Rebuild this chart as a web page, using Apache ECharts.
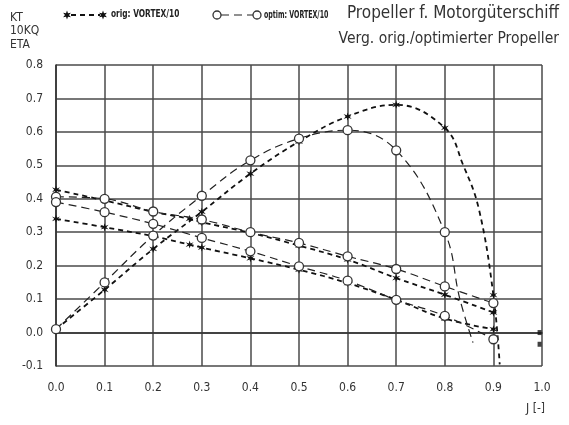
<!DOCTYPE html>
<html>
<head>
<meta charset="utf-8">
<script src="https://cdn.jsdelivr.net/npm/echarts@6/dist/echarts.min.js"></script>
<style>
html,body{margin:0;padding:0;background:#fff;}
#c{width:569px;height:425px;}
</style>
</head>
<body>
<div id="c"></div>
<script>
// ---- data ----
const J = [0.0, 0.1, 0.2, 0.3, 0.4, 0.5, 0.6, 0.7, 0.8, 0.9];
const xTicks = ['0.0','0.1','0.2','0.3','0.4','0.5','0.6','0.7','0.8','0.9','1.0'];
const ktOrig   = [0.340, 0.315, 0.288, 0.254, 0.222, 0.188, 0.148, 0.098, 0.042, 0.010];
const ktOptim  = [0.390, 0.360, 0.325, 0.283, 0.243, 0.198, 0.155, 0.098, 0.050, -0.020];
const kqOrig   = [0.427, 0.395, 0.361, 0.330, 0.298, 0.260, 0.218, 0.163, 0.113, 0.060];
const kqOptim  = [0.406, 0.400, 0.362, 0.338, 0.300, 0.268, 0.228, 0.190, 0.138, 0.088];
const etaOrigJ = [0.0, 0.1, 0.2, 0.3, 0.4, 0.5, 0.6, 0.7, 0.8, 0.9];
const etaOrig  = [0.010, 0.128, 0.250, 0.361, 0.475, 0.571, 0.646, 0.681, 0.612, 0.112];
const etaOptimJ = [0.0, 0.1, 0.2, 0.3, 0.4, 0.5, 0.6, 0.7, 0.8];
const etaOptim  = [0.010, 0.150, 0.290, 0.409, 0.515, 0.580, 0.605, 0.545, 0.300];
// unmarked curve points
const etaOrigCurve  = [[0.838, 0.500], [0.870, 0.370], [0.913, -0.095]];
const etaOptimCurve = [[0.831, 0.100], [0.858, -0.030]];
const kqOrigExtra = [[0.275, 0.340]];
const ktOrigExtra = [[0.275, 0.263]];
const edgeMarks = [[0.995, 0.000], [0.995, -0.035]];

const FONT = "'DejaVu Sans Condensed','Liberation Sans Narrow',sans-serif";
const STAR = 'path://M5,0L6,3.5L9.5,2L7,5L9.5,8L6,6.5L5,10L4,6.5L0.5,8L3,5L0.5,2L4,3.5Z';

function pairs(xs, ys){ return xs.map((x,i)=>[x, ys[i]]); }
function merge(marked, extra, extraSymbol){
  const a = marked.map(p=>({value:p}));
  extra.forEach(p=>a.push(extraSymbol ? {value:p} : {value:p, symbol:'none'}));
  a.sort((u,v)=>u.value[0]-v.value[0]);
  return a;
}
function starPts(cx, cy, r){
  const pts = [];
  for (let k = 0; k < 12; k++){
    const ang = Math.PI * k / 6 - Math.PI/2;
    const rr = (k % 2 === 0) ? r : r*0.45;
    pts.push([cx + rr*Math.cos(ang), cy + rr*Math.sin(ang)]);
  }
  return pts;
}

const origLine = {color:'#111', width:1.8, type:[5,4]};
const optLine  = {color:'#222', width:1.2, type:[8,5]};
const starItem = {color:'#111'};
const circItem = {color:'#fff', borderColor:'#333', borderWidth:1.3};

function origSeries(data){
  return {type:'line', data, smooth:0.4, symbol:STAR, symbolSize:8,
    lineStyle:origLine, itemStyle:starItem, z:3, animation:false};
}
function optSeries(data){
  return {type:'line', data, smooth:0.4, symbol:'circle', symbolSize:9,
    lineStyle:optLine, itemStyle:circItem, z:4, animation:false};
}

const chart = echarts.init(document.getElementById('c'));
chart.setOption({
  backgroundColor:'#fff',
  animation:false,
  grid:{left:56, right:27, top:65, bottom:59},
  xAxis:{type:'value', min:0, max:1, interval:0.1,
    axisLine:{show:true, lineStyle:{color:'#333', width:1.6}},
    axisTick:{show:false},
    splitLine:{show:true, lineStyle:{color:'#4a4a4a', width:1.5}},
    axisLabel:{margin:16, color:'#333', fontFamily:FONT, fontSize:12,
      formatter:(v)=>xTicks[Math.round(v*10)]}},
  yAxis:{type:'value', min:-0.1, max:0.8, interval:0.1,
    axisLine:{show:true, lineStyle:{color:'#333', width:1.6}},
    axisTick:{show:false},
    splitLine:{show:true, lineStyle:{color:'#4a4a4a', width:1.5}},
    axisLabel:{margin:13, color:'#333', fontFamily:FONT, fontSize:12,
      formatter:(v)=>v.toFixed(1)}},
  series:[
    origSeries(merge(pairs(J, kqOrig), kqOrigExtra, true)),
    optSeries(merge(pairs(J, kqOptim), [], true)),
    origSeries(merge(pairs(J, ktOrig), ktOrigExtra, true)),
    optSeries(merge(pairs(J, ktOptim), [], true)),
    origSeries(merge(pairs(etaOrigJ, etaOrig), etaOrigCurve, false)),
    optSeries(merge(pairs(etaOptimJ, etaOptim), etaOptimCurve, false)),
    {type:'scatter', data:edgeMarks, symbol:'rect', symbolSize:[4,5], itemStyle:starItem, animation:false}
  ],
  graphic:[
    {type:'text', left:10, top:11, style:{text:'KT\n10KQ\nETA', font:'12px '+FONT, lineHeight:13.5, fill:'#333'}},
    // legend: orig
    {type:'line', shape:{x1:71,y1:15,x2:100,y2:15}, style:{stroke:'#111', lineWidth:1.8, lineDash:[5,4]}},
    {type:'polygon', shape:{points:starPts(67,15,4.5)}, style:{fill:'#111'}},
    {type:'polygon', shape:{points:starPts(103,15,4.5)}, style:{fill:'#111'}},
    {type:'text', x:111, y:9, scaleX:0.75, style:{text:'orig: VORTEX/10', font:'bold 11px '+FONT, fill:'#222'}},
    // legend: optim
    {type:'line', shape:{x1:221,y1:15,x2:253,y2:15}, style:{stroke:'#222', lineWidth:1.2, lineDash:[8,5]}},
    {type:'circle', shape:{cx:217, cy:15, r:4}, style:{fill:'#fff', stroke:'#333', lineWidth:1.3}},
    {type:'circle', shape:{cx:257, cy:15, r:4}, style:{fill:'#fff', stroke:'#333', lineWidth:1.3}},
    {type:'text', x:264, y:10, scaleX:0.7, style:{text:'optim: VORTEX/10', font:'bold 10px '+FONT, fill:'#222'}},
    // titles
    {type:'text', right:10, top:5, style:{text:'Propeller f. Motorgüterschiff', font:'17px '+FONT, fill:'#333'}},
    {type:'text', right:10, top:31, style:{text:'Verg. orig./optimierter Propeller', font:'15.5px '+FONT, fill:'#333'}},
    {type:'text', right:24, top:403, style:{text:'J [-]', font:'12px '+FONT, fill:'#333'}}
  ]
});
</script>
</body>
</html>
